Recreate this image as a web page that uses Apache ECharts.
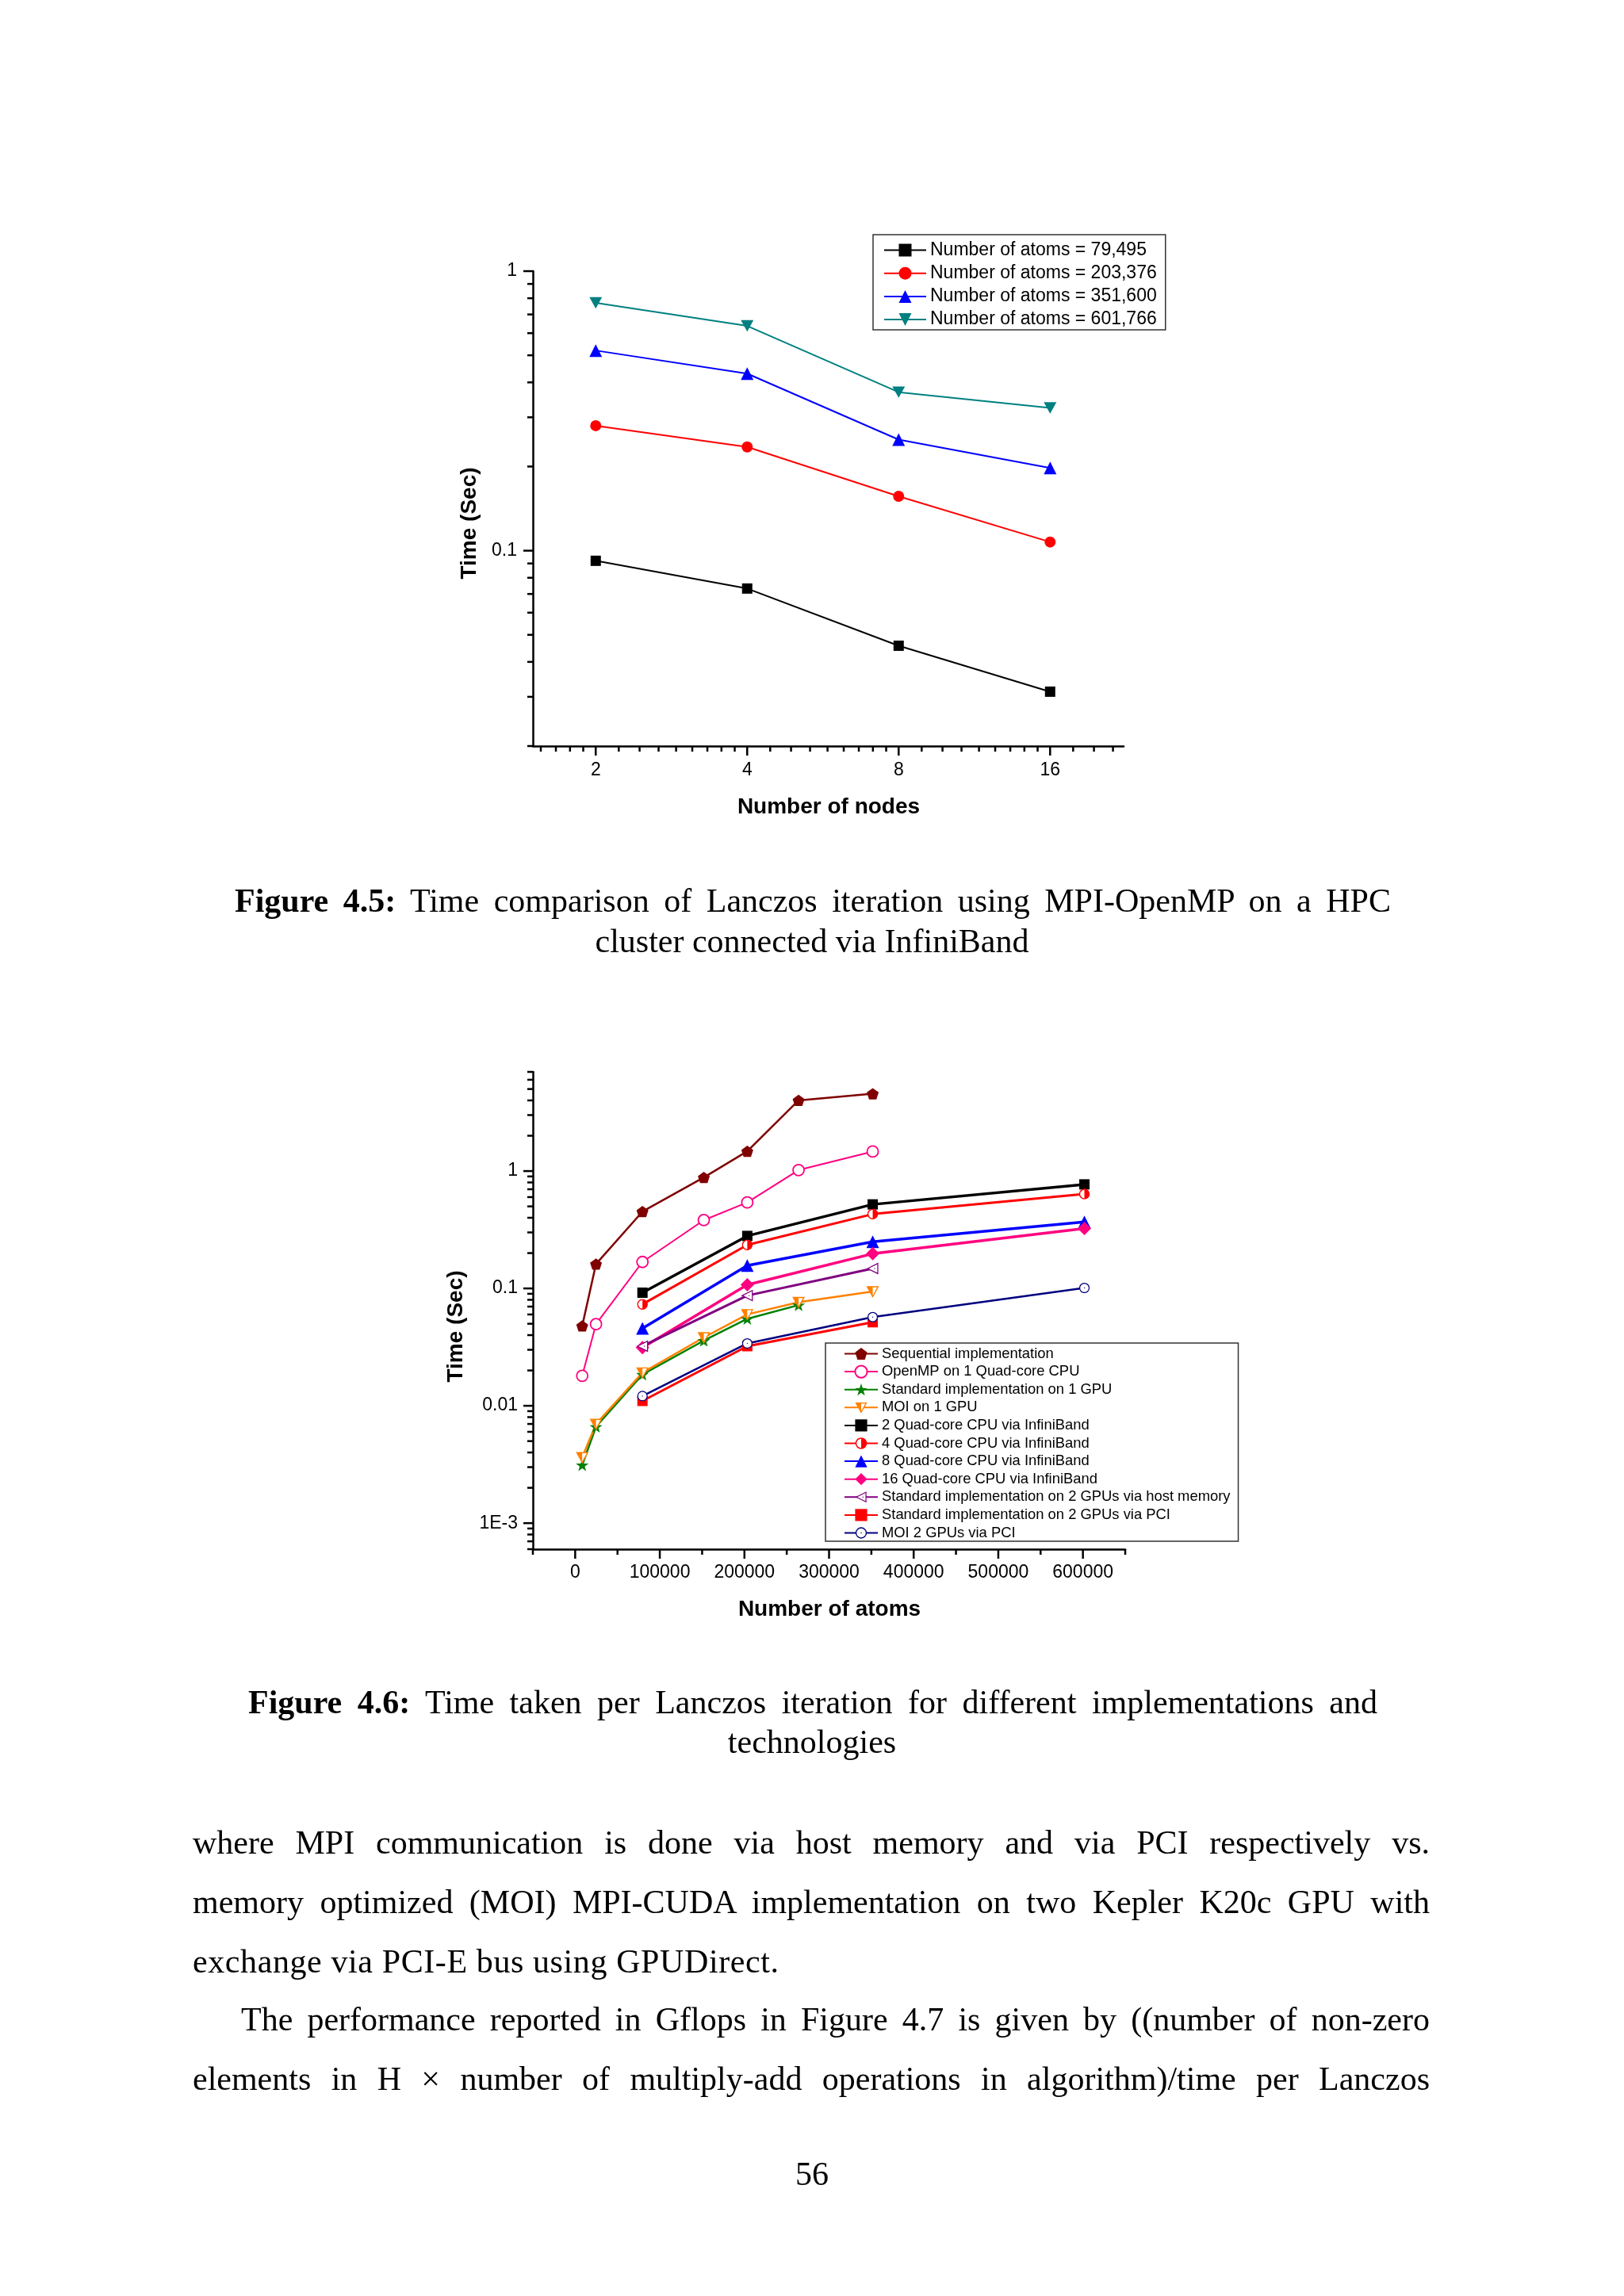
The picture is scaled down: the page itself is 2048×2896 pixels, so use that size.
<!DOCTYPE html>
<html><head><meta charset="utf-8">
<script src="https://cdn.jsdelivr.net/npm/echarts@6/dist/echarts.min.js"></script>
<style>
html,body{margin:0;padding:0;background:#fff;}
#page{position:relative;width:2048px;height:2896px;background:#fff;overflow:hidden;}
#chart{position:absolute;left:0;top:0;width:2048px;height:2896px;}
.tx{position:absolute;font-family:'Liberation Serif','Times New Roman',serif;font-size:42px;line-height:42px;color:#000;}
.j{text-align:justify;text-align-last:justify;}
.c{text-align:center;}
b{font-weight:bold;}
</style></head>
<body><div id="page"><div id="chart"></div>
<div class="tx j" style="left:296px;top:1115px;width:1458px"><b>Figure 4.5:</b> Time comparison of Lanczos iteration using MPI-OpenMP on a HPC</div>
<div class="tx c" style="left:0;top:1166px;width:2048px">cluster connected via InfiniBand</div>
<div class="tx j" style="left:313px;top:2126px;width:1424px"><b>Figure 4.6:</b> Time taken per Lanczos iteration for different implementations and</div>
<div class="tx c" style="left:0;top:2176px;width:2048px">technologies</div>
<div class="tx j" style="left:243px;top:2303px;width:1560px">where MPI communication is done via host memory and via PCI respectively vs.</div>
<div class="tx j" style="left:243px;top:2378px;width:1560px">memory optimized (MOI) MPI-CUDA implementation on two Kepler K20c GPU with</div>
<div class="tx" style="left:243px;top:2453px;width:1560px;letter-spacing:0.6px">exchange via PCI-E bus using GPUDirect.</div>
<div class="tx j" style="left:304px;top:2526px;width:1499px">The performance reported in Gflops in Figure 4.7 is given by ((number of non-zero</div>
<div class="tx j" style="left:243px;top:2601px;width:1560px">elements in H &times; number of multiply-add operations in algorithm)/time per Lanczos</div>
<div class="tx c" style="left:0;top:2721px;width:2048px">56</div>
</div>
<script>
// ---------- Figure 4.5 data ----------
const nodeCounts = [2, 4, 8, 16];
const nodeTickLabels = ['2', '4', '8', '16'];
const topSeriesNames = ['Number of atoms = 79,495', 'Number of atoms = 203,376', 'Number of atoms = 351,600', 'Number of atoms = 601,766'];
const time79495 = [0.092, 0.0732, 0.0457, 0.0313];
const time203376 = [0.280, 0.235, 0.1565, 0.1074];
const time351600 = [0.520, 0.430, 0.2496, 0.1976];
const time601766 = [0.770, 0.637, 0.369, 0.324];
const topTimeTickValues = [0.1, 1];
const topTimeTickLabels = ['0.1', '1'];

// ---------- Figure 4.6 data ----------
const atomsCpu = [8300, 24600, 79495, 152000, 203376, 264000, 351600];
const timeSequential = [0.0479, 0.1614, 0.4515, 0.883, 1.476, 4.005, 4.56];
const timeOpenMP = [0.0180, 0.0496, 0.168, 0.382, 0.541, 1.02, 1.468];
const atomsStdGpu1 = [8300, 24600, 79495, 152000, 203376, 264000];
const timeStdGpu1 = [0.00313, 0.00664, 0.0185, 0.0359, 0.0551, 0.0721];
const atomsMoiGpu1 = [8300, 24600, 79495, 152000, 203376, 264000, 351600];
const timeMoiGpu1 = [0.00363, 0.00699, 0.01915, 0.0382, 0.0601, 0.0764, 0.094];
const atomsCluster = [79495, 203376, 351600, 601766];
const atoms2Gpu = [79495, 203376, 351600];
const timeStd2GpuHost = [0.0322, 0.0869, 0.1477];
const timeStd2GpuPci = [0.0110, 0.0322, 0.0515];
const atomsMoi2Gpu = [79495, 203376, 351600, 601766];
const timeMoi2GpuPci = [0.0121, 0.0340, 0.0570, 0.101];
const atomTickValues = [0, 100000, 200000, 300000, 400000, 500000, 600000];
const atomTickLabels = ['0', '100000', '200000', '300000', '400000', '500000', '600000'];
const timeTickValues = [0.001, 0.01, 0.1, 1];
const timeTickLabels = ['1E-3', '0.01', '0.1', '1'];
const bottomNames = ['Sequential implementation', 'OpenMP on 1 Quad-core CPU', 'Standard implementation on 1 GPU', 'MOI on 1 GPU',
  '2 Quad-core CPU via InfiniBand', '4 Quad-core CPU via InfiniBand', '8 Quad-core CPU via InfiniBand', '16 Quad-core CPU via InfiniBand',
  'Standard implementation on 2 GPUs via host memory', 'Standard implementation on 2 GPUs via PCI', 'MOI 2 GPUs via PCI'];

// cluster times per atom count (rows of the 4.5 figure, read per node count)
const topRows = [time79495, time203376, time351600, time601766];
const clusterTimes = nodeCounts.map((n, i) => topRows.map(r => r[i]));

// ---------- helpers ----------
const zip = (xs, ys) => xs.map((x, i) => [x, ys[i]]);
const svgUri = s => 'image://data:image/svg+xml;charset=utf-8,' + encodeURIComponent(s);
const SVG = (body) => "<svg xmlns='http://www.w3.org/2000/svg' width='40' height='40' viewBox='0 0 20 20'>" + body + "</svg>";
const symHalfCircle = svgUri(SVG("<circle cx='10' cy='10' r='8.6' fill='#ffffff' stroke='#ff0000' stroke-width='2'/><path d='M10 1.4 A8.6 8.6 0 0 1 10 18.6 Z' fill='#ff0000'/>"));
const symHalfTri = svgUri(SVG("<polygon points='1.5,2.5 18.5,2.5 10,18' fill='#ffffff' stroke='#ff8000' stroke-width='1.8' stroke-linejoin='miter'/><polygon points='1.5,2.5 10,2.5 10,18' fill='#ff8000'/>"));
const symLeftTriDot = svgUri(SVG("<polygon points='2,10 18,2 18,18' fill='#ffffff' stroke='#800080' stroke-width='1.6'/><circle cx='13' cy='10' r='0.9' fill='#800080'/>"));
const symCircleDot = svgUri(SVG("<circle cx='10' cy='10' r='8.5' fill='#ffffff' stroke='#000080' stroke-width='1.8'/><circle cx='10' cy='10' r='0.9' fill='#000080'/>"));
const symPentagon = 'path://M0,-10L9.511,-3.09L5.878,8.09L-5.878,8.09L-9.511,-3.09Z';
const symStar = 'path://M0,-10L2.351,-3.236L9.511,-3.09L3.804,1.236L5.878,8.09L0,4L-5.878,8.09L-3.804,1.236L-9.511,-3.09L-2.351,-3.236Z';
const symInvTri = 'path://M0,0L10,0L5,9Z';

function lineSeries(name, grid, data, color, symbol, size, lw, fill, border) {
  return {
    name, type: 'line', xAxisIndex: grid, yAxisIndex: grid, data,
    symbol, symbolSize: size, symbolKeepAspect: true, showSymbol: true, showAllSymbol: true,
    lineStyle: { color, width: lw },
    itemStyle: { color: fill || color, borderColor: border || color, borderWidth: border ? 1.8 : 0, opacity: 1 },
    emphasis: { disabled: true }, z: 3, animation: false
  };
}

// ---------- tick helpers ----------
const log2Minor = [];
[1, 2, 4, 8, 16].forEach(b => { for (let j = 1; j <= 8; j++) { const v = b * (1 + j / 9); if (v > 1.5 && v < 22.4) log2Minor.push(v); } });
function logMinor(lo, hi) {
  const out = [];
  for (let e = -5; e <= 1; e++) { const d = Math.pow(10, e); for (let m = 2; m <= 9; m++) { const v = +(d * m).toPrecision(6); if (v >= lo * 0.999 && v <= hi * 1.001) out.push(v); } }
  return out;
}
const topYMinor = logMinor(0.02, 1);
const botYMinor = logMinor(0.0006, 7);
const atomMinor = [-50000, 50000, 150000, 250000, 350000, 450000, 550000, 650000];

function tickSeries(grid, dim, values, refOther, len) {
  return {
    type: 'custom', xAxisIndex: grid, yAxisIndex: grid, silent: true, clip: false, z: 6, animation: false,
    data: values.map(v => dim === 'x' ? [v, refOther] : [refOther, v]),
    renderItem: function (params, api) {
      const cs = params.coordSys;
      const p = api.coord([api.value(0), api.value(1)]);
      if (dim === 'x') {
        const y0 = cs.y + cs.height;
        return { type: 'line', shape: { x1: p[0], y1: y0, x2: p[0], y2: y0 + len }, style: { stroke: '#000', lineWidth: 2.5 } };
      }
      const x0 = cs.x;
      return { type: 'line', shape: { x1: x0, y1: p[1], x2: x0 - len, y2: p[1] }, style: { stroke: '#000', lineWidth: 2.5 } };
    }
  };
}

function labelFrom(values, labels) {
  return function (v) {
    for (let i = 0; i < values.length; i++) { if (Math.abs(v - values[i]) <= Math.abs(values[i]) * 1e-6 + 1e-12) return labels[i]; }
    return '';
  };
}

const labelFont = { fontFamily: 'Liberation Sans', fontSize: 23, color: '#000' };
const axisLineStyle = { show: true, onZero: false, lineStyle: { color: '#000', width: 2.5 } };

const option = {
  backgroundColor: '#ffffff',
  animation: false,
  grid: [
    { left: 672, top: 342, width: 745, height: 599 },
    { left: 672, top: 1352, width: 747, height: 602 }
  ],
  xAxis: [
    { gridIndex: 0, type: 'log', logBase: 2, min: 1.5, max: 22.4, axisLine: axisLineStyle, axisTick: { show: false }, splitLine: { show: false }, minorTick: { show: false },
      axisLabel: Object.assign({ margin: 19, formatter: labelFrom(nodeCounts, nodeTickLabels), showMinLabel: true, showMaxLabel: true }, labelFont) },
    { gridIndex: 1, type: 'value', min: -50000, max: 650000, interval: 50000, axisLine: axisLineStyle, axisTick: { show: false }, splitLine: { show: false },
      axisLabel: Object.assign({ margin: 18, formatter: labelFrom(atomTickValues, atomTickLabels) }, labelFont) }
  ],
  yAxis: [
    { gridIndex: 0, type: 'log', logBase: 10, min: 0.02, max: 1, axisLine: axisLineStyle, axisTick: { show: false }, splitLine: { show: false },
      axisLabel: Object.assign({ margin: 20, formatter: labelFrom(topTimeTickValues, topTimeTickLabels) }, labelFont) },
    { gridIndex: 1, type: 'log', logBase: 10, min: 0.0006, max: 7, axisLine: axisLineStyle, axisTick: { show: false }, splitLine: { show: false },
      axisLabel: Object.assign({ margin: 19, formatter: labelFrom(timeTickValues, timeTickLabels) }, labelFont) }
  ],
  legend: [
    { left: 1101, top: 296, orient: 'vertical', itemWidth: 53, itemHeight: 20, itemGap: 5.2, padding: [7.5, 11, 1, 13],
      borderColor: '#333', borderWidth: 1.5, selectedMode: false, data: topSeriesNames,
      textStyle: { fontFamily: 'Liberation Sans', fontSize: 23, lineHeight: 24, color: '#000' } },
    { left: 1041, top: 1694, orient: 'vertical', itemWidth: 42, itemHeight: 19, itemGap: 3.6, padding: [4, 10, 1, 23],
      borderColor: '#333', borderWidth: 1.5, selectedMode: false, data: bottomNames,
      textStyle: { fontFamily: 'Liberation Sans', fontSize: 18.4, lineHeight: 19, color: '#000' } }
  ],
  graphic: [
    { type: 'text', x: 592, y: 660, rotation: Math.PI / 2, style: { text: 'Time (Sec)', fontFamily: 'Liberation Sans', fontWeight: 'bold', fontSize: 28, fill: '#000', align: 'center', verticalAlign: 'middle' } },
    { type: 'text', x: 1045, y: 1018, style: { text: 'Number of nodes', fontFamily: 'Liberation Sans', fontWeight: 'bold', fontSize: 28, fill: '#000', align: 'center', verticalAlign: 'middle' } },
    { type: 'text', x: 575, y: 1673, rotation: Math.PI / 2, style: { text: 'Time (Sec)', fontFamily: 'Liberation Sans', fontWeight: 'bold', fontSize: 28, fill: '#000', align: 'center', verticalAlign: 'middle' } },
    { type: 'text', x: 1046, y: 2030, style: { text: 'Number of atoms', fontFamily: 'Liberation Sans', fontWeight: 'bold', fontSize: 28, fill: '#000', align: 'center', verticalAlign: 'middle' } }
  ],
  series: [
    lineSeries(topSeriesNames[0], 0, zip(nodeCounts, time79495), '#000000', 'rect', 13, 2),
    lineSeries(topSeriesNames[1], 0, zip(nodeCounts, time203376), '#ff0000', 'circle', 14, 2),
    lineSeries(topSeriesNames[2], 0, zip(nodeCounts, time351600), '#0000ff', 'triangle', 16, 2),
    lineSeries(topSeriesNames[3], 0, zip(nodeCounts, time601766), '#008080', symInvTri, 16, 2),

    lineSeries(bottomNames[0], 1, zip(atomsCpu, timeSequential), '#800000', symPentagon, 15, 2.5),
    lineSeries(bottomNames[1], 1, zip(atomsCpu, timeOpenMP), '#ff0080', 'circle', 14, 2, '#ffffff', '#ff0080'),
    lineSeries(bottomNames[2], 1, zip(atomsStdGpu1, timeStdGpu1), '#008000', symStar, 16, 2.5),
    lineSeries(bottomNames[3], 1, zip(atomsMoiGpu1, timeMoiGpu1), '#ff8000', symHalfTri, 16, 2.5),
    lineSeries(bottomNames[4], 1, zip(atomsCluster, clusterTimes[0]), '#000000', 'rect', 13, 3.5),
    lineSeries(bottomNames[5], 1, zip(atomsCluster, clusterTimes[1]), '#ff0000', symHalfCircle, 14, 3),
    lineSeries(bottomNames[6], 1, zip(atomsCluster, clusterTimes[2]), '#0000ff', 'triangle', 16, 3.5),
    lineSeries(bottomNames[7], 1, zip(atomsCluster, clusterTimes[3]), '#ff0080', 'diamond', 17, 3.5),
    lineSeries(bottomNames[8], 1, zip(atoms2Gpu, timeStd2GpuHost), '#800080', symLeftTriDot, 16, 3),
    lineSeries(bottomNames[9], 1, zip(atoms2Gpu, timeStd2GpuPci), '#ff0000', 'rect', 13, 3),
    lineSeries(bottomNames[10], 1, zip(atomsMoi2Gpu, timeMoi2GpuPci), '#000080', symCircleDot, 14, 2.5),

    tickSeries(0, 'x', nodeCounts, 0.02, 12),
    tickSeries(0, 'x', log2Minor, 0.02, 7),
    tickSeries(0, 'y', topTimeTickValues, 1.5, 12),
    tickSeries(0, 'y', topYMinor, 1.5, 7),
    tickSeries(1, 'x', atomTickValues, 0.0006, 12),
    tickSeries(1, 'x', atomMinor, 0.0006, 7),
    tickSeries(1, 'y', timeTickValues, -50000, 12),
    tickSeries(1, 'y', botYMinor, -50000, 7)
  ]
};

const chart = echarts.init(document.getElementById('chart'), null, { renderer: 'canvas', width: 2048, height: 2896 });
chart.setOption(option);
</script>
</body></html>
